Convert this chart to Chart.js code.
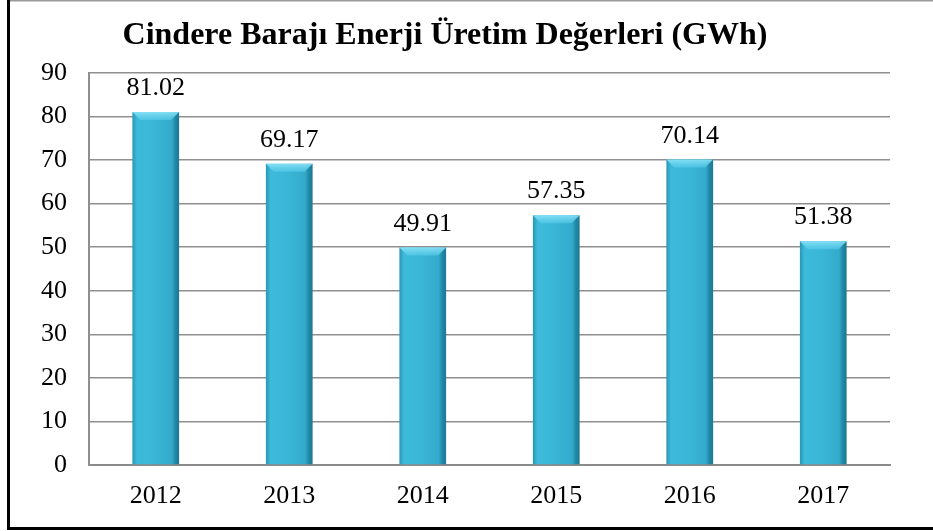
<!DOCTYPE html>
<html>
<head>
<meta charset="utf-8">
<script src="https://cdn.jsdelivr.net/npm/chart.js@4"></script>
<style>
  html, body { margin: 0; padding: 0; background: #fff; }
  #wrap { width: 933px; height: 531px; }
</style>
</head>
<body>
<div id="wrap"><canvas id="chart" width="933" height="531"></canvas></div>
<script>
const years = ['2012', '2013', '2014', '2015', '2016', '2017'];
const production = [81.02, 69.17, 49.91, 57.35, 70.14, 51.38];
const titleText = 'Cindere Barajı Enerji Üretim Değerleri (GWh)';
const serif = "'Liberation Serif', 'Times New Roman', serif";
const BAR_FRACTION = 0.35;

// horizontal shading so each bar looks like a rounded prism
function barGradient(context) {
    const chart = context.chart;
    const xScale = chart.scales.x;
    if (!xScale || context.dataIndex === undefined) return '#3ab5d6';
    const center = xScale.getPixelForValue(context.dataIndex);
    const width = (xScale.width / years.length) * BAR_FRACTION;
    if (!Number.isFinite(center) || !Number.isFinite(width) || width <= 0) return '#3ab5d6';
    const left = center - width / 2;
    const g = chart.ctx.createLinearGradient(left, 0, left + width, 0);
    g.addColorStop(0, '#2896b6');
    g.addColorStop(0.1, '#3dbbdb');
    g.addColorStop(0.5, '#3ab5d6');
    g.addColorStop(0.84, '#33aacb');
    g.addColorStop(0.92, '#2088a6');
    g.addColorStop(1, '#1b7893');
    return g;
}

// light bevel on top of each bar
const barBevel = {
    id: 'barBevel',
    afterDatasetDraw(chart) {
        const ctx = chart.ctx;
        ctx.save();
        chart.getDatasetMeta(0).data.forEach(bar => {
            const l = bar.x - bar.width / 2, r = bar.x + bar.width / 2, t = bar.y;
            const d = 8;
            const g = ctx.createLinearGradient(0, t, 0, t + d);
            g.addColorStop(0, 'rgba(140,228,248,0.9)');
            g.addColorStop(1, 'rgba(90,205,235,0.6)');
            ctx.fillStyle = g;
            ctx.beginPath();
            ctx.moveTo(l, t); ctx.lineTo(r, t); ctx.lineTo(r - d, t + d); ctx.lineTo(l + d, t + d);
            ctx.closePath();
            ctx.fill();
        });
        ctx.restore();
    }
};

const valueLabels = {
    id: 'valueLabels',
    afterDatasetsDraw(chart) {
        const ctx = chart.ctx;
        ctx.save();
        ctx.font = '26px ' + serif;
        ctx.fillStyle = '#000';
        ctx.textAlign = 'center';
        ctx.textBaseline = 'alphabetic';
        chart.getDatasetMeta(0).data.forEach((bar, i) => {
            ctx.fillText(production[i].toFixed(2), bar.x, bar.y - 17);
        });
        ctx.restore();
    }
};

const frame = {
    id: 'frame',
    afterDraw(chart) {
        const ctx = chart.ctx;
        ctx.save();
        ctx.strokeStyle = '#9a9a9a';
        ctx.lineWidth = 1.5;
        ctx.beginPath();
        ctx.moveTo(8, 0.75); ctx.lineTo(933, 0.75);
        ctx.stroke();
        ctx.strokeStyle = '#000';
        ctx.lineWidth = 3;
        ctx.beginPath();
        ctx.moveTo(8.5, 0); ctx.lineTo(8.5, 528.5); ctx.lineTo(933, 528.5);
        ctx.stroke();
        ctx.restore();
    }
};

new Chart(document.getElementById('chart'), {
    type: 'bar',
    data: {
        labels: years,
        datasets: [{
            data: production,
            backgroundColor: barGradient,
            borderWidth: 0,
            categoryPercentage: 1,
            barPercentage: BAR_FRACTION
        }]
    },
    options: {
        responsive: false,
        animation: false,
        layout: { padding: { left: 0, right: 43, top: 0, bottom: 0 } },
        plugins: {
            legend: { display: false },
            tooltip: { enabled: false },
            title: {
                display: true,
                text: titleText,
                color: '#000',
                font: { family: serif, size: 32, weight: 'bold', lineHeight: 1.2 },
                padding: { top: 17, bottom: 17.6 }
            }
        },
        scales: {
            x: {
                grid: { display: false, drawTicks: false },
                border: { display: true, color: '#8a8a8a', width: 2 },
                ticks: { color: '#000', font: { family: serif, size: 26 }, padding: 16 },
                afterFit(scale) { scale.height = 66; }
            },
            y: {
                min: 0,
                max: 90,
                ticks: { stepSize: 10, color: '#000', font: { family: serif, size: 26 }, padding: 22 },
                grid: { color: '#8f8f8f', lineWidth: 1.5, drawTicks: false },
                border: { display: true, color: '#8f8f8f', width: 2 },
                afterFit(scale) { scale.width = 89; }
            }
        }
    },
    plugins: [barBevel, valueLabels, frame]
});
</script>
</body>
</html>
